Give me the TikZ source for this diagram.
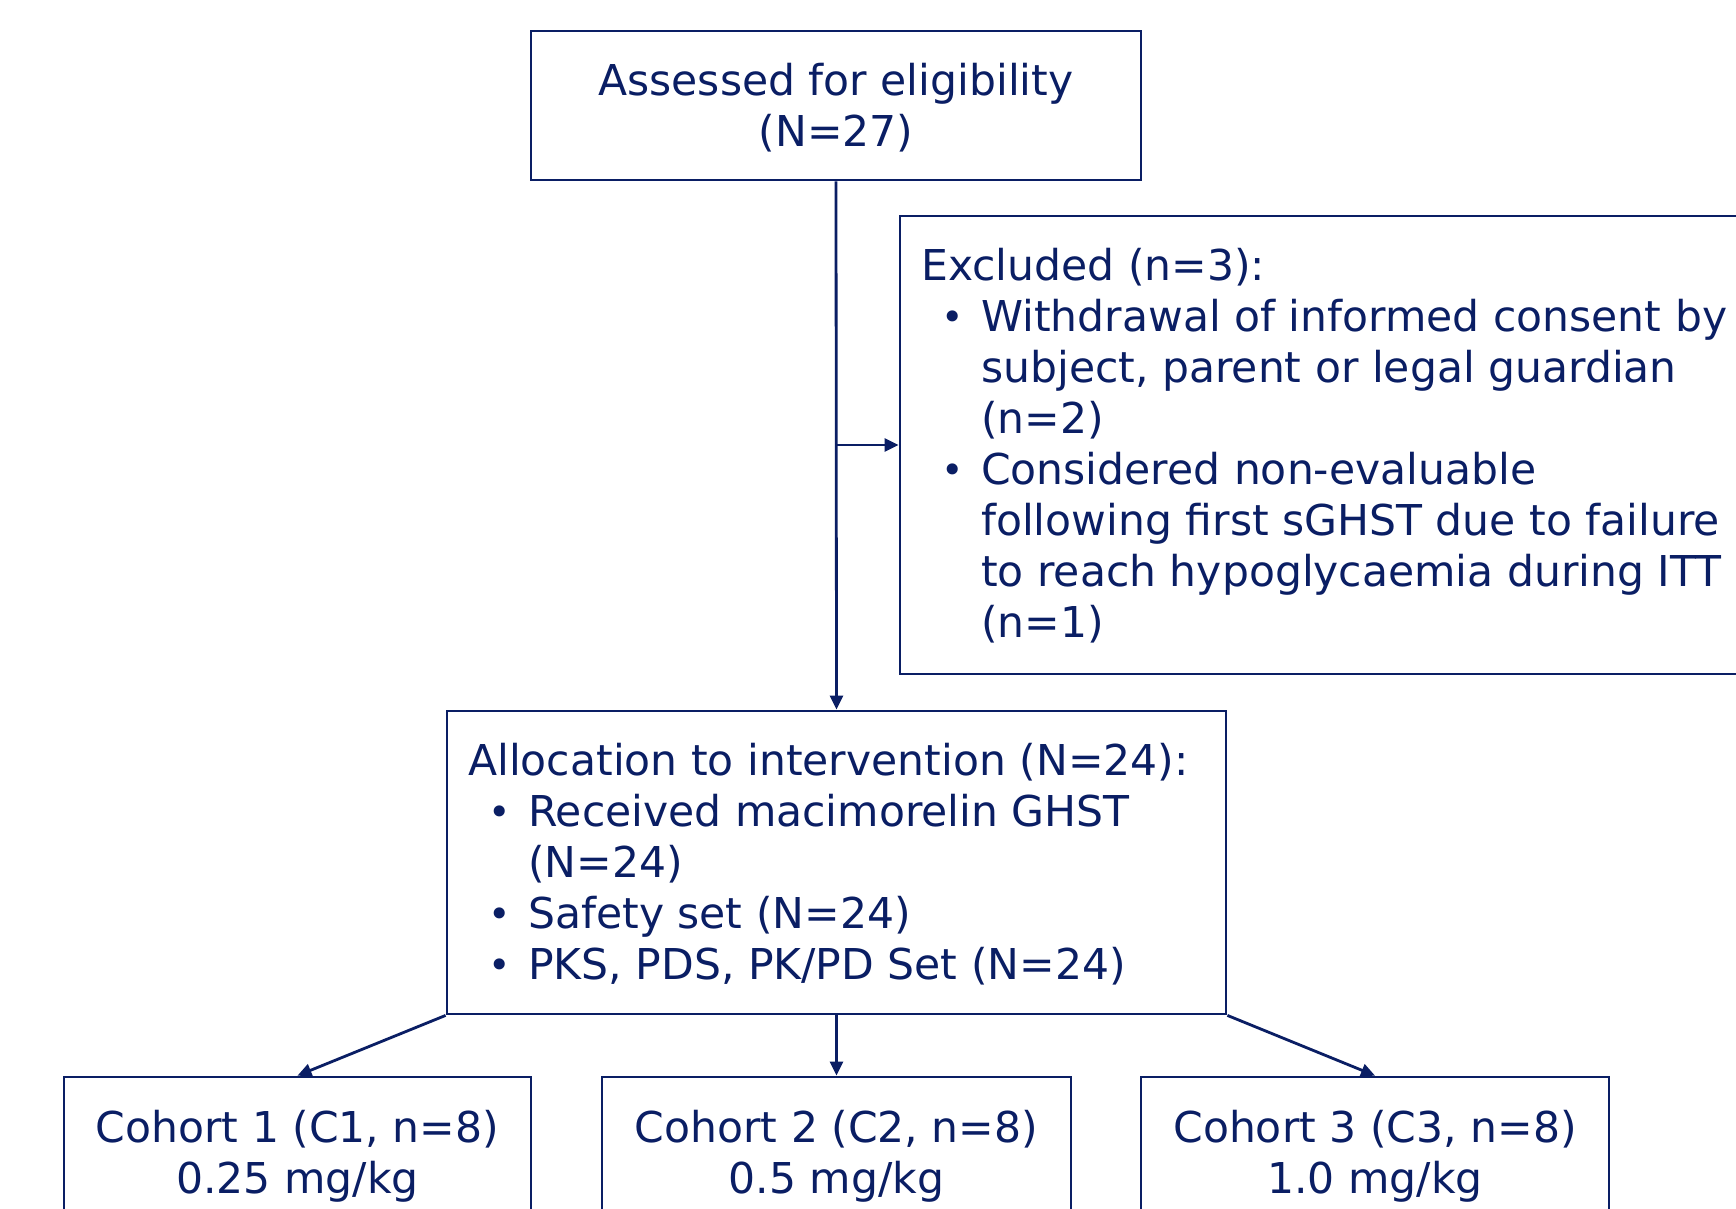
\documentclass[tikz,border=0pt]{standalone}
\usepackage{fontspec}
\setmainfont{DejaVu Sans}
\usetikzlibrary{arrows.meta}
\definecolor{navy}{RGB}{10,30,100}
\newcommand{\blt}[1]{\hspace*{20pt}\makebox[40pt][l]{\raisebox{1pt}{\fontsize{38}{38}\selectfont\textbullet}}#1}
\newcommand{\cnt}[1]{\hspace*{60pt}#1}
\begin{document}
\begin{tikzpicture}[x=1pt,y=-1pt,
  box/.style={draw=navy, line width=2.8pt, rectangle, inner sep=0pt},
  txt/.style={text=navy, font=\fontsize{42.5}{51}\selectfont, inner sep=0pt},
  arr/.style={draw=navy, line width=2.8pt, -{Triangle[length=14pt,width=13pt]}}]
\useasboundingbox (0,0) rectangle (1736,1209);
\clip (0,0) rectangle (1736,1209);
\fill[white] (0,0) rectangle (1736,1209);
% boxes
\node[box, minimum width=610pt, minimum height=149pt] (top) at (836,105.5) {};
\node[box, minimum width=860pt, minimum height=458pt] (excl) at (1330,445) {};
\node[box, minimum width=779pt, minimum height=303pt] (alloc) at (836.5,862.5) {};
\node[box, minimum width=467pt, minimum height=183pt] (c1) at (297.5,1168.5) {};
\node[box, minimum width=469pt, minimum height=183pt] (c2) at (836.5,1168.5) {};
\node[box, minimum width=468pt, minimum height=183pt] (c3) at (1375,1168.5) {};
% texts
\node[txt, align=center] (ttop) at (836,107.5) {Assessed for eligibility\\(N=27)};
\node[txt, align=left, anchor=base west] (texcl) at (921,637) {Excluded (n=3):\\
\blt{Withdrawal of informed consent by}\\
\cnt{subject, parent or legal guardian}\\
\cnt{(n=2)}\\
\blt{Considered non-evaluable}\\
\cnt{following first sGHST due to failure}\\
\cnt{to reach hypoglycaemia during ITT}\\
\cnt{(n=1)}};
\node[txt, align=left, anchor=base west] (talloc) at (468,979) {Allocation to intervention (N=24):\\
\blt{Received macimorelin GHST}\\
\cnt{(N=24)}\\
\blt{Safety set (N=24)}\\
\blt{PKS, PDS, PK/PD Set (N=24)}};
\node[txt, align=center, anchor=base] (tc1) at (297.5,1193) {Cohort 1 (C1, n=8)\\0.25 mg/kg};
\node[txt, align=center, anchor=base] (tc2) at (836.5,1193) {Cohort 2 (C2, n=8)\\0.5 mg/kg};
\node[txt, align=center, anchor=base] (tc3) at (1375,1193) {Cohort 3 (C3, n=8)\\1.0 mg/kg};
% connectors
\draw[arr] (top.south) -- (alloc.north);
\draw[arr] (top.south |- excl.west) -- (excl.west);
\draw[arr] (alloc.south west) -- (c1.north);
\draw[arr] (alloc.south) -- (c2.north);
\draw[arr] (alloc.south east) -- (c3.north);
\end{tikzpicture}
\end{document}
